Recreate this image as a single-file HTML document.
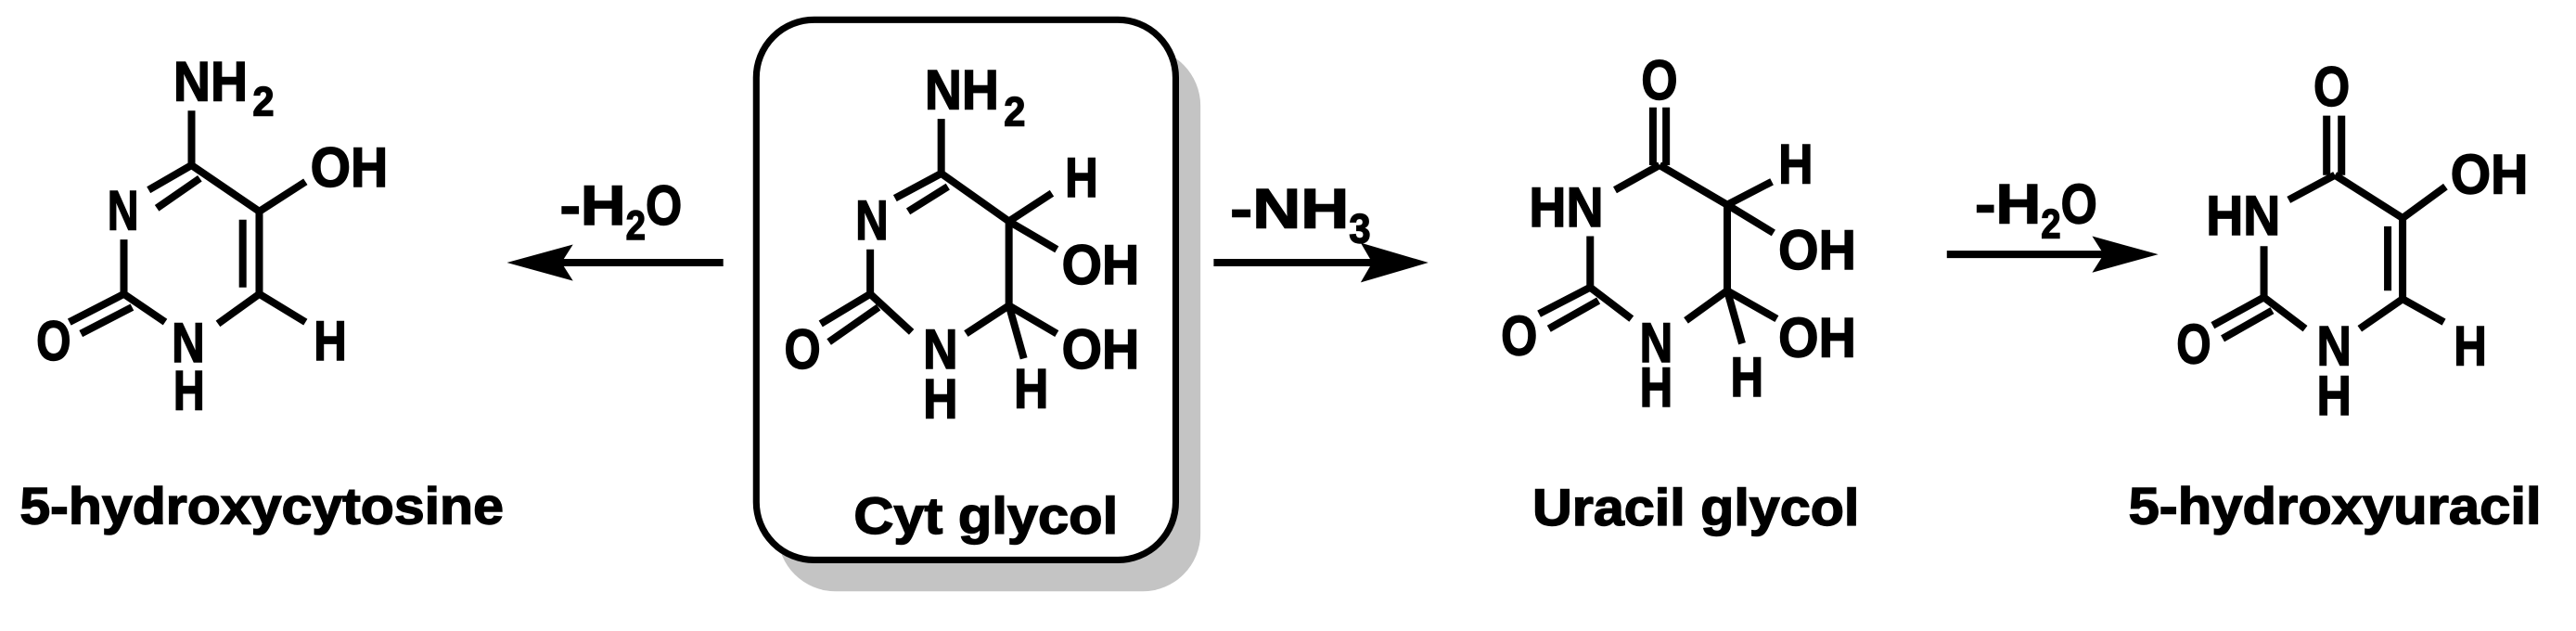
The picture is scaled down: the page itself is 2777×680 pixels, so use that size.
<!DOCTYPE html>
<html><head><style>
html,body{margin:0;padding:0;background:#fff;}
svg{display:block;}
text{font-family:"Liberation Sans",Arial,sans-serif;font-weight:bold;fill:#000;stroke:#000;stroke-width:0.8;}
.a{font-size:34px;}
.s{font-size:25px;}
.n{font-size:31px;}
</style></head><body>
<svg width="2777" height="680" viewBox="0 0 1560 382" preserveAspectRatio="none" xmlns="http://www.w3.org/2000/svg">
<!-- box -->
<rect x="471" y="29" width="256" height="329" rx="35" fill="#c4c4c4"/>
<rect x="458" y="12" width="254" height="327" rx="35" fill="#fff" stroke="#000" stroke-width="4"/>
<g stroke="#000" stroke-width="4.5" stroke-linecap="butt" fill="none">
<!-- Mol1 -->
<line x1="116" y1="100" x2="116" y2="67"/>
<line x1="116" y1="100" x2="90" y2="115"/>
<line x1="121" y1="108" x2="95" y2="126"/>
<line x1="116" y1="100" x2="157" y2="128"/>
<line x1="157" y1="128" x2="185" y2="110"/>
<line x1="157" y1="128" x2="157" y2="178"/>
<line x1="147" y1="133" x2="147" y2="174"/>
<line x1="75" y1="145" x2="75" y2="178"/>
<line x1="75" y1="178" x2="42" y2="195"/>
<line x1="80" y1="186" x2="49" y2="202"/>
<line x1="75" y1="178" x2="100" y2="195"/>
<line x1="132" y1="196" x2="157" y2="178"/>
<line x1="157" y1="178" x2="185" y2="195"/>
<!-- Mol2 -->
<line x1="570" y1="105" x2="570" y2="72"/>
<line x1="570" y1="105" x2="542" y2="120"/>
<line x1="574" y1="113" x2="550" y2="128"/>
<line x1="570" y1="105" x2="611" y2="134"/>
<line x1="611" y1="134" x2="637" y2="117"/>
<line x1="611" y1="134" x2="640" y2="151"/>
<line x1="611" y1="134" x2="611" y2="185"/>
<line x1="611" y1="185" x2="640" y2="202"/>
<line x1="611" y1="185" x2="620" y2="217"/>
<line x1="611" y1="185" x2="585" y2="202"/>
<line x1="527" y1="151" x2="527" y2="178"/>
<line x1="527" y1="178" x2="552" y2="201"/>
<line x1="527" y1="178" x2="497" y2="196"/>
<line x1="532" y1="186" x2="502" y2="207"/>
<!-- Mol3 -->
<line x1="1001" y1="65" x2="1001" y2="100"/>
<line x1="1009" y1="65" x2="1009" y2="100"/>
<line x1="1005" y1="100" x2="978" y2="115"/>
<line x1="1005" y1="100" x2="1046" y2="124"/>
<line x1="1046" y1="124" x2="1073" y2="110"/>
<line x1="1046" y1="124" x2="1074" y2="141"/>
<line x1="1046" y1="124" x2="1046" y2="176"/>
<line x1="1046" y1="176" x2="1076" y2="193"/>
<line x1="1046" y1="176" x2="1055" y2="208"/>
<line x1="1046" y1="176" x2="1021" y2="194"/>
<line x1="963" y1="143" x2="963" y2="174"/>
<line x1="963" y1="174" x2="988" y2="193"/>
<line x1="963" y1="174" x2="932" y2="190"/>
<line x1="968" y1="182" x2="938" y2="199"/>
<!-- Mol4 -->
<line x1="1409" y1="70" x2="1409" y2="106"/>
<line x1="1418" y1="70" x2="1418" y2="106"/>
<line x1="1414" y1="106" x2="1386" y2="121"/>
<line x1="1414" y1="106" x2="1455" y2="132"/>
<line x1="1455" y1="132" x2="1481" y2="113"/>
<line x1="1455" y1="132" x2="1455" y2="181"/>
<line x1="1446" y1="137" x2="1446" y2="176"/>
<line x1="1455" y1="181" x2="1480" y2="195"/>
<line x1="1455" y1="181" x2="1429" y2="199"/>
<line x1="1371" y1="149" x2="1371" y2="180"/>
<line x1="1371" y1="180" x2="1396" y2="199"/>
<line x1="1371" y1="180" x2="1340" y2="197"/>
<line x1="1376" y1="188" x2="1346" y2="205"/>
<!-- arrows -->
<line x1="438" y1="159" x2="335" y2="159"/>
<line x1="735" y1="159" x2="835" y2="159"/>
<line x1="1179" y1="154" x2="1280" y2="154"/>
</g>
<polygon points="307,159 347,148 340,159 347,170" fill="#000"/>
<polygon points="865,159 824,147 831,159 824,171" fill="#000"/>
<polygon points="1307,154 1267,143 1274,154 1267,165" fill="#000"/>
<!-- Mol1 labels -->
<text class="a" x="105" y="61" textLength="45" lengthAdjust="spacingAndGlyphs">NH</text>
<text class="s" x="153" y="70" textLength="13" lengthAdjust="spacingAndGlyphs">2</text>
<text class="a" x="188" y="113" textLength="47" lengthAdjust="spacingAndGlyphs">OH</text>
<text class="a" x="65" y="139" textLength="19" lengthAdjust="spacingAndGlyphs">N</text>
<text class="a" x="22" y="218" textLength="21" lengthAdjust="spacingAndGlyphs">O</text>
<text class="a" x="104" y="219" textLength="20" lengthAdjust="spacingAndGlyphs">N</text>
<text class="a" x="105" y="248" textLength="19" lengthAdjust="spacingAndGlyphs">H</text>
<text class="a" x="190" y="218" textLength="20" lengthAdjust="spacingAndGlyphs">H</text>
<text class="n" x="12" y="317" textLength="293" lengthAdjust="spacingAndGlyphs">5-hydroxycytosine</text>
<!-- Mol2 labels -->
<text class="a" x="560" y="66" textLength="45" lengthAdjust="spacingAndGlyphs">NH</text>
<text class="s" x="608" y="76" textLength="13" lengthAdjust="spacingAndGlyphs">2</text>
<text class="a" x="645" y="119" textLength="20" lengthAdjust="spacingAndGlyphs">H</text>
<text class="a" x="518" y="145" textLength="20" lengthAdjust="spacingAndGlyphs">N</text>
<text class="a" x="643" y="172" textLength="47" lengthAdjust="spacingAndGlyphs">OH</text>
<text class="a" x="643" y="223" textLength="47" lengthAdjust="spacingAndGlyphs">OH</text>
<text class="a" x="475" y="223" textLength="22" lengthAdjust="spacingAndGlyphs">O</text>
<text class="a" x="559" y="223" textLength="21" lengthAdjust="spacingAndGlyphs">N</text>
<text class="a" x="559" y="253" textLength="21" lengthAdjust="spacingAndGlyphs">H</text>
<text class="a" x="614" y="247" textLength="21" lengthAdjust="spacingAndGlyphs">H</text>
<text class="n" x="517" y="323" textLength="160" lengthAdjust="spacingAndGlyphs">Cyt glycol</text>
<!-- arrow labels -->
<text class="a" x="339" y="136" textLength="40" lengthAdjust="spacingAndGlyphs">-H</text>
<text class="s" x="379" y="145" textLength="12" lengthAdjust="spacingAndGlyphs">2</text>
<text class="a" x="391" y="136" textLength="22" lengthAdjust="spacingAndGlyphs">O</text>
<text class="a" x="745" y="138" textLength="72" lengthAdjust="spacingAndGlyphs">-NH</text>
<text class="s" x="817" y="147" textLength="13" lengthAdjust="spacingAndGlyphs">3</text>
<text class="a" x="1196" y="135" textLength="40" lengthAdjust="spacingAndGlyphs">-H</text>
<text class="s" x="1236" y="144" textLength="12" lengthAdjust="spacingAndGlyphs">2</text>
<text class="a" x="1248" y="135" textLength="22" lengthAdjust="spacingAndGlyphs">O</text>
<!-- Mol3 labels -->
<text class="a" x="994" y="60" textLength="22" lengthAdjust="spacingAndGlyphs">O</text>
<text class="a" x="926" y="137" textLength="45" lengthAdjust="spacingAndGlyphs">HN</text>
<text class="a" x="909" y="215" textLength="22" lengthAdjust="spacingAndGlyphs">O</text>
<text class="a" x="993" y="219" textLength="20" lengthAdjust="spacingAndGlyphs">N</text>
<text class="a" x="993" y="246" textLength="20" lengthAdjust="spacingAndGlyphs">H</text>
<text class="a" x="1077" y="111" textLength="21" lengthAdjust="spacingAndGlyphs">H</text>
<text class="a" x="1077" y="163" textLength="47" lengthAdjust="spacingAndGlyphs">OH</text>
<text class="a" x="1077" y="216" textLength="47" lengthAdjust="spacingAndGlyphs">OH</text>
<text class="a" x="1048" y="240" textLength="20" lengthAdjust="spacingAndGlyphs">H</text>
<text class="n" x="928" y="318" textLength="198" lengthAdjust="spacingAndGlyphs">Uracil glycol</text>
<!-- Mol4 labels -->
<text class="a" x="1401" y="64" textLength="22" lengthAdjust="spacingAndGlyphs">O</text>
<text class="a" x="1336" y="142" textLength="45" lengthAdjust="spacingAndGlyphs">HN</text>
<text class="a" x="1318" y="220" textLength="21" lengthAdjust="spacingAndGlyphs">O</text>
<text class="a" x="1403" y="221" textLength="21" lengthAdjust="spacingAndGlyphs">N</text>
<text class="a" x="1403" y="251" textLength="21" lengthAdjust="spacingAndGlyphs">H</text>
<text class="a" x="1484" y="117" textLength="47" lengthAdjust="spacingAndGlyphs">OH</text>
<text class="a" x="1486" y="221" textLength="20" lengthAdjust="spacingAndGlyphs">H</text>
<text class="n" x="1289" y="317" textLength="250" lengthAdjust="spacingAndGlyphs">5-hydroxyuracil</text>
</svg>
</body></html>
